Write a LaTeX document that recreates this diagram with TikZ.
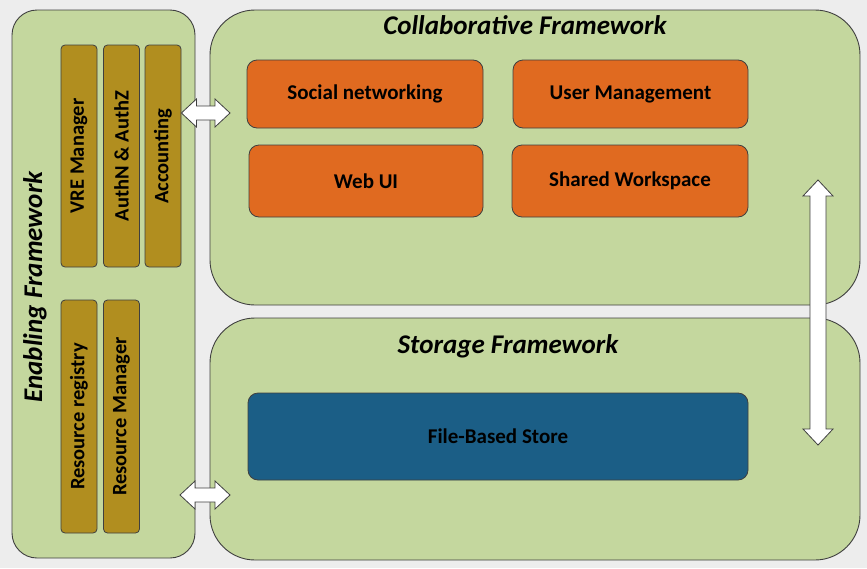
\documentclass[tikz,border=0pt]{standalone}
\usepackage{fontspec}
\setmainfont{Carlito}
\usepackage{xcolor}
\usetikzlibrary{calc}

\definecolor{pagebg}{HTML}{EDEDED}
\definecolor{frameg}{HTML}{C4D79E}
\definecolor{goldb}{HTML}{B18E1F}
\definecolor{orangeb}{HTML}{E06A20}
\definecolor{blueb}{HTML}{1B5E86}
\definecolor{edge}{HTML}{3F3F3F}

% fat two-headed arrows between two named coordinates
\newcommand{\hlink}[2]{%
  \filldraw[link] (#1) -- ($(#1)+(15,-14)$) -- ($(#1)+(15,-7)$) -- ($(#2)+(-15,-7)$)
    -- ($(#2)+(-15,-14)$) -- (#2) -- ($(#2)+(-15,14)$) -- ($(#2)+(-15,7)$)
    -- ($(#1)+(15,7)$) -- ($(#1)+(15,14)$) -- cycle;}
\newcommand{\vlink}[2]{%
  \filldraw[link] (#1) -- ($(#1)+(-15,16)$) -- ($(#1)+(-8,16)$) -- ($(#2)+(-8,-16)$)
    -- ($(#2)+(-15,-16)$) -- (#2) -- ($(#2)+(15,-16)$) -- ($(#2)+(8,-16)$)
    -- ($(#1)+(8,16)$) -- ($(#1)+(15,16)$) -- cycle;}

\begin{document}
\begin{tikzpicture}[
  x=1pt,
  y=-1pt,
  frame/.style={draw=edge, fill=frameg, line width=0.9pt, inner sep=0pt},
  title/.style={font=\fontsize{27}{30}\selectfont\bfseries\itshape},
  module/.style={draw=edge, fill=goldb, line width=0.8pt, rounded corners=4pt,
    inner sep=0pt, minimum height=36pt, font=\fontsize{20.5}{22}\selectfont\bfseries},
  service/.style={draw=edge, fill=orangeb, line width=0.8pt, rounded corners=10pt,
    inner sep=0pt, font=\fontsize{21}{23}\selectfont\bfseries},
  store/.style={draw=edge, fill=blueb, line width=0.8pt, rounded corners=10pt,
    inner sep=0pt, font=\fontsize{21}{23}\selectfont\bfseries},
  link/.style={draw=edge, fill=white, line width=0.8pt, line join=miter}
]
% canvas
\fill[pagebg] (0,0) rectangle (867,568);
\useasboundingbox (0,0) rectangle (867,568);

% frameworks
\node[frame, rounded corners=25pt, minimum width=183pt, minimum height=548pt]
  (enabling) at (103.5,284) {};
\node[frame, rounded corners=45pt, minimum width=650pt, minimum height=295pt]
  (collab) at (535,157.5) {};
\node[frame, rounded corners=45pt, minimum width=650pt, minimum height=242pt]
  (storage) at (535,439) {};
\node[title, rotate=90] (enablingtitle) at (35,287) {Enabling Framework};
\node[title] (collabtitle) at (525,25) {Collaborative Framework};
\node[title] (storagetitle) at (508,346) {Storage Framework};

% enabling modules
\node[module, minimum width=222pt, rotate=90] (vre) at (79,156) {VRE Manager};
\node[module, minimum width=222pt, rotate=90] (authz) at (121.5,156) {AuthN \& AuthZ};
\node[module, minimum width=222pt, rotate=90] (accounting) at (163,156) {Accounting};
\node[module, minimum width=233pt, rotate=90] (registry) at (79,416.5) {Resource registry};
\node[module, minimum width=233pt, rotate=90] (resmgr) at (121.5,416.5) {Resource Manager};

% collaborative services
\node[service, minimum width=236pt, minimum height=68pt] (social) at (365,94) {Social networking};
\node[service, minimum width=235pt, minimum height=68pt] (usermgmt) at (630.5,94) {User Management};
\node[service, minimum width=234pt, minimum height=72pt] (webui) at (366,181) {Web UI};
\node[service, minimum width=236pt, minimum height=72pt] (workspace) at (630,181) {Shared Workspace};

% storage
\node[store, minimum width=500pt, minimum height=87pt] (filestore) at (498,436.5) {File-Based Store};

% links
\coordinate (topl) at (accounting.south |- 0,113);
\coordinate (topr) at (230,113);
\coordinate (botl) at (180,495);
\coordinate (botr) at (230,495);
\coordinate (vtop) at (818,180);
\coordinate (vbot) at (818,445);
\hlink{topl}{topr}
\hlink{botl}{botr}
\vlink{vtop}{vbot}
\end{tikzpicture}
\end{document}
